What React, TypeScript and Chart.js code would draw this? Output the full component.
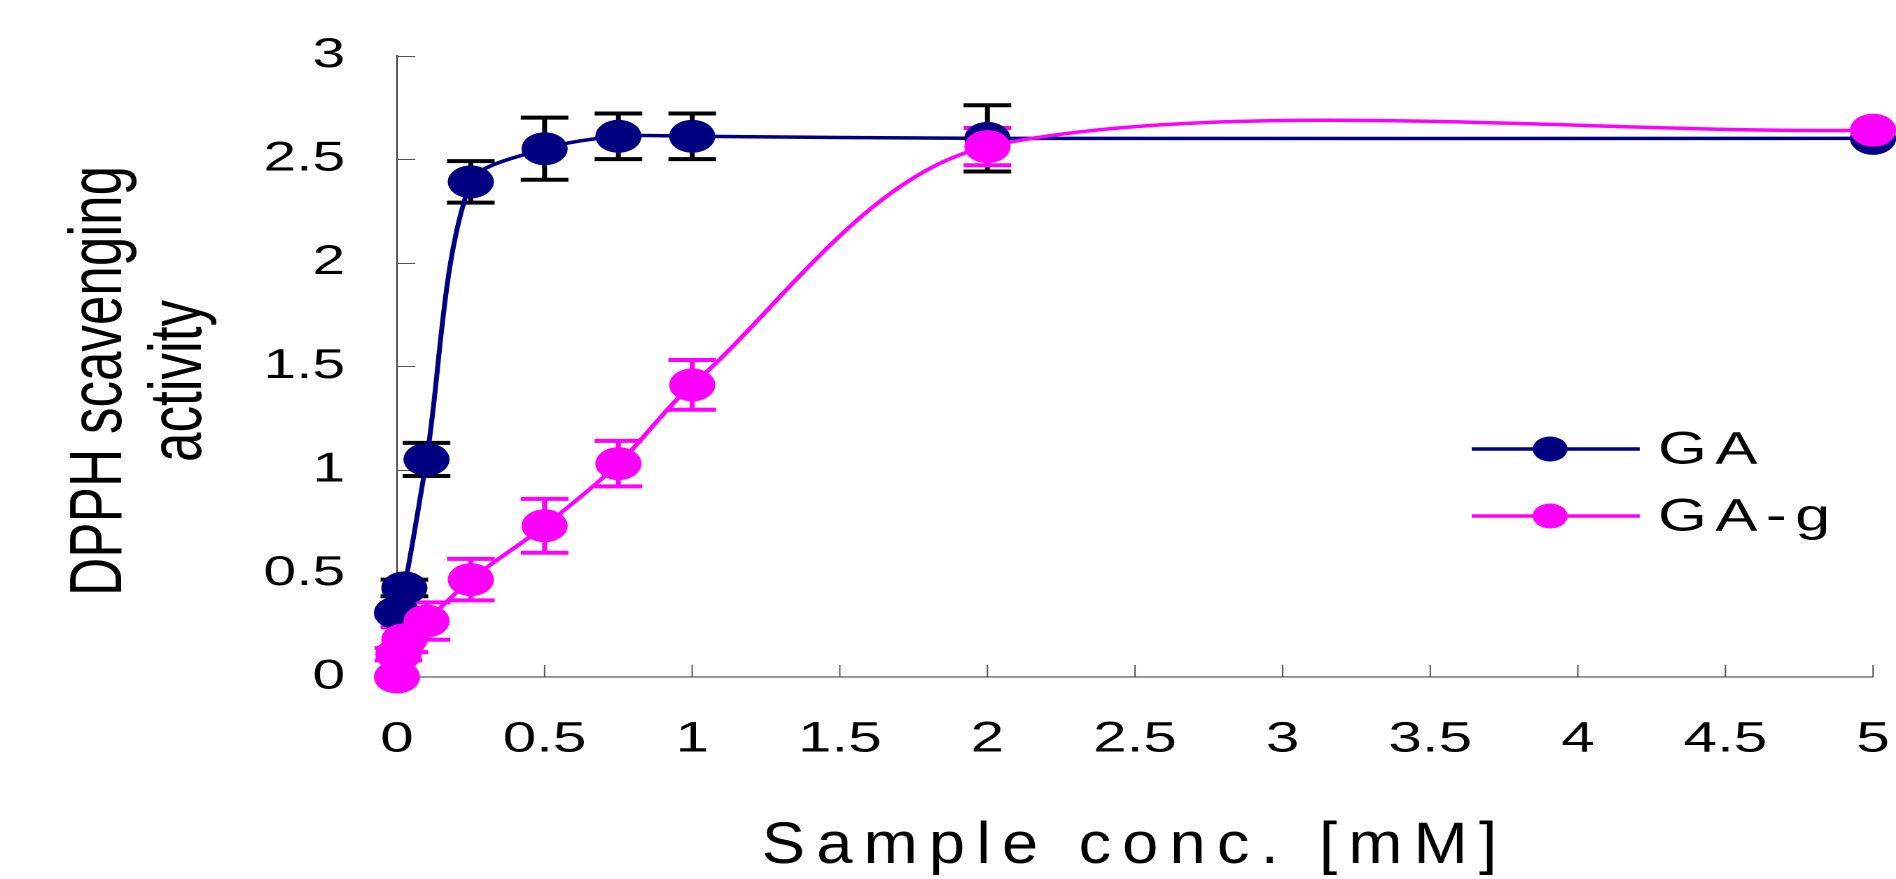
import React, { useEffect, useRef } from 'react';
import { Chart, registerables, LinearScale } from 'chart.js';

// ---- data ----
const xTickValues = [0, 0.5, 1, 1.5, 2, 2.5, 3, 3.5, 4, 4.5, 5];
const yTickValues = [0, 0.5, 1, 1.5, 2, 2.5, 3];

const gaConc = [0, 0.025, 0.1, 0.25, 0.5, 0.75, 1, 2, 5];
const gaActivity = [0.31, 0.43, 1.05, 2.39, 2.55, 2.61, 2.61, 2.6, 2.6];
const gaError = [0, 0.04, 0.08, 0.1, 0.15, 0.11, 0.11, 0.16, 0];

const gagConc = [0, 0.005, 0.025, 0.1, 0.25, 0.5, 0.75, 1, 2, 5];
const gagActivity = [0, 0.11, 0.18, 0.27, 0.47, 0.73, 1.03, 1.41, 2.56, 2.64];
const gagError = [0, 0.03, 0.06, 0.09, 0.1, 0.13, 0.11, 0.12, 0.09, 0];

const seriesNames = ['GA', 'GA-g'];
const seriesColors = ['#000080', '#FF00FF'];
const errorColors = ['#000000', '#FF00FF'];

const FONT = "'Liberation Sans', Arial, Helvetica, sans-serif";

// canvas is drawn narrower and stretched horizontally, as in the reference
const CW = 1354;
const CH = 879;

// linear scale whose title is drawn with condensed, letter-spaced glyphs
class SpacedTitleScale extends (LinearScale as any) {
  static id = 'spacedTitleLinear';
  static defaults = (LinearScale as any).defaults;
  drawTitle() {
    const ctx = (this as any).ctx;
    const cx = ((this as any).left + (this as any).right) / 2;
    ctx.save();
    ctx.translate(cx, 0);
    ctx.scale(0.8, 1);
    ctx.translate(-cx, 0);
    ctx.letterSpacing = '10px';
    super.drawTitle();
    ctx.restore();
  }
}

Chart.register(...registerables, SpacedTitleScale as any);

const errorBarPlugin = {
  id: 'errorBars',
  beforeDatasetsDraw(chart: any) {
    const { ctx, scales } = chart;
    const x = scales.x;
    const y = scales.y;
    const sets = [
      { xs: gaConc, ys: gaActivity, es: gaError, color: errorColors[0] },
      { xs: gagConc, ys: gagActivity, es: gagError, color: errorColors[1] },
    ];
    ctx.save();
    // inward tick marks
    ctx.strokeStyle = '#555';
    ctx.lineWidth = 1;
    const area = chart.chartArea;
    y.ticks.forEach((t: any) => {
      const py = Math.round(y.getPixelForValue(t.value)) + 0.5;
      ctx.beginPath();
      ctx.moveTo(area.left, py);
      ctx.lineTo(area.left + 13, py);
      ctx.stroke();
    });
    x.ticks.forEach((t: any) => {
      const px = x.getPixelForValue(t.value);
      ctx.beginPath();
      ctx.moveTo(px, area.bottom);
      ctx.lineTo(px, area.bottom - 12);
      ctx.stroke();
    });
    // error bars
    for (const s of sets) {
      ctx.strokeStyle = s.color;
      for (let i = 0; i < s.xs.length; i++) {
        const e = s.es[i];
        if (!e) continue;
        const px = x.getPixelForValue(s.xs[i]);
        const top = y.getPixelForValue(s.ys[i] + e);
        const bot = y.getPixelForValue(s.ys[i] - e);
        ctx.lineWidth = 3.5;
        ctx.beginPath();
        ctx.moveTo(px, top);
        ctx.lineTo(px, bot);
        ctx.stroke();
        ctx.lineWidth = 4;
        ctx.beginPath();
        ctx.moveTo(px - 17, top);
        ctx.lineTo(px + 17, top);
        ctx.moveTo(px - 17, bot);
        ctx.lineTo(px + 17, bot);
        ctx.stroke();
      }
    }
    ctx.restore();
  },
};

const legendPlugin = {
  id: 'insideLegend',
  afterDraw(chart: any) {
    const { ctx } = chart;
    ctx.save();
    seriesNames.forEach((name, i) => {
      const yy = 449 + i * 67;
      ctx.strokeStyle = seriesColors[i];
      ctx.lineWidth = 3.5;
      ctx.beginPath();
      ctx.moveTo(1051, yy);
      ctx.lineTo(1171, yy);
      ctx.stroke();
      ctx.fillStyle = seriesColors[i];
      ctx.beginPath();
      ctx.arc(1107, yy, 12.5, 0, Math.PI * 2);
      ctx.fill();
      ctx.fillStyle = '#000';
      ctx.font = `45px ${FONT}`;
      ctx.textBaseline = 'middle';
      ctx.textAlign = 'left';
      ctx.letterSpacing = '6px';
      ctx.fillText(name, 1184, yy + 2);
      ctx.letterSpacing = '0px';
    });
    ctx.restore();
  },
};

const fmt = (v: any) => `${v}`;

export default function App() {
  const ref = useRef<HTMLCanvasElement>(null);
  useEffect(() => {
    if (!ref.current) return;
    const chart = new Chart(ref.current, {
      type: 'line',
      data: {
        datasets: [
          {
            label: seriesNames[0],
            data: gaConc.map((c, i) => ({ x: c, y: gaActivity[i] })),
            borderColor: seriesColors[0],
            backgroundColor: seriesColors[0],
            pointBackgroundColor: seriesColors[0],
            pointBorderWidth: 0,
            pointRadius: 16.5,
            pointStyle: 'circle',
            borderWidth: 3.5,
            tension: 0.3,
            clip: false,
            order: 2,
          },
          {
            label: seriesNames[1],
            data: gagConc.map((c, i) => ({ x: c, y: gagActivity[i] })),
            borderColor: seriesColors[1],
            backgroundColor: seriesColors[1],
            pointBackgroundColor: seriesColors[1],
            pointBorderWidth: 0,
            pointRadius: 16.5,
            pointStyle: 'circle',
            borderWidth: 3.5,
            tension: 0.3,
            clip: false,
            order: 1,
          },
        ],
      },
      options: {
        responsive: false,
        animation: false,
        devicePixelRatio: 2,
        events: [],
        layout: { autoPadding: false, padding: { left: 0, top: 55.5, right: 16.4, bottom: 0 } },
        plugins: {
          legend: { display: false },
          tooltip: { enabled: false },
        },
        scales: {
          x: {
            type: 'spacedTitleLinear',
            position: 'bottom',
            min: 0,
            max: 5,
            afterBuildTicks: (s: any) => {
              s.ticks = xTickValues.map((v) => ({ value: v }));
            },
            afterFit: (s: any) => {
              s.height = 202;
            },
            grid: { display: false, drawTicks: true, tickLength: 37 },
            border: { display: true, color: '#333', width: 1 },
            ticks: {
              padding: 0,
              color: '#000',
              maxRotation: 0,
              autoSkip: false,
              callback: fmt,
              font: { family: FONT, size: 43 },
            },
            title: {
              display: true,
              text: 'Sample conc. [mM]',
              color: '#000',
              font: { family: FONT, size: 58, lineHeight: 1.1 },
              padding: { top: 0, bottom: 0 },
            },
          },
          y: {
            type: 'linear',
            position: 'left',
            min: 0,
            max: 3,
            afterBuildTicks: (s: any) => {
              s.ticks = yTickValues.map((v) => ({ value: v }));
            },
            afterFit: (s: any) => {
              s.width = 283.5;
            },
            grid: { display: false, drawTicks: true, tickLength: 37 },
            border: { display: true, color: '#333', width: 1 },
            ticks: {
              padding: 0,
              color: '#000',
              callback: fmt,
              font: { family: FONT, size: 42 },
            },
            title: {
              display: true,
              text: ['DPPH scavenging  ', 'activity  '],
              color: '#000',
              font: { family: FONT, size: 53, lineHeight: 1.075 },
              padding: { top: 43.5, bottom: 0 },
            },
          },
        },
      },
      plugins: [errorBarPlugin, legendPlugin],
    } as any);
    return () => chart.destroy();
  }, []);

  return (
    <div style={{ position: 'absolute', left: 0, top: 0, width: 1896, height: 879, background: '#fff' }}>
      <canvas
        ref={ref}
        width={CW}
        height={CH}
        style={{ width: '1896px', height: '879px', display: 'block' }}
      />
    </div>
  );
}
